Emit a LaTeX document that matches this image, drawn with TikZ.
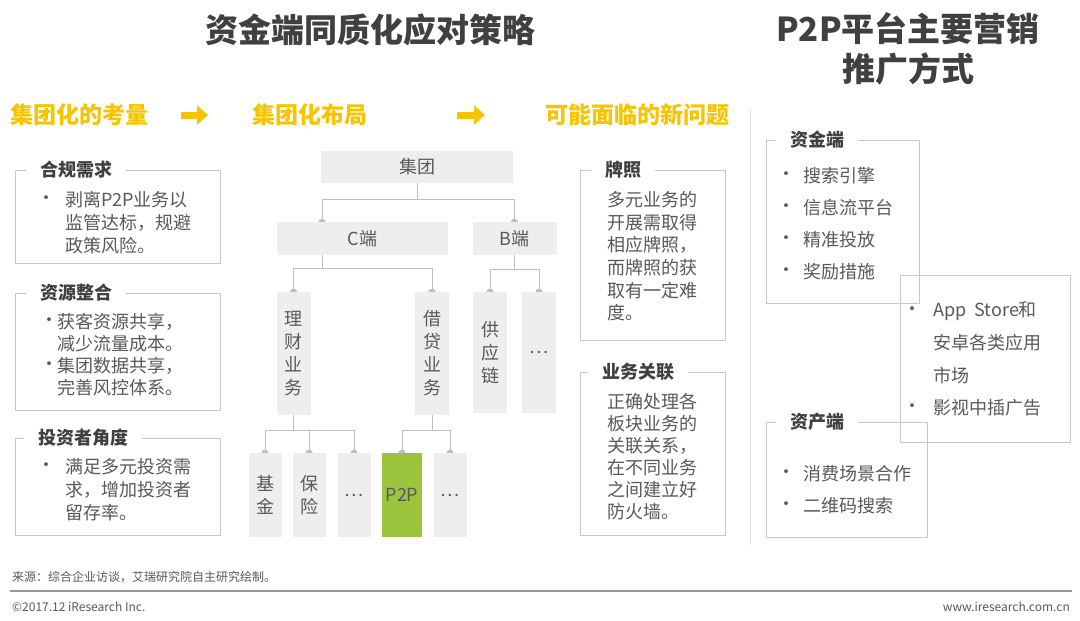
\documentclass[tikz,border=0pt]{standalone}
\usepackage{fontspec}
\setmainfont{Noto Sans CJK SC}
\usetikzlibrary{arrows.meta,shapes.misc,positioning,backgrounds}
\definecolor{hdyellow} {RGB}{246,196,0}
\definecolor{txtgray}  {RGB}{89,89,89}
\definecolor{ttlgray}  {RGB}{64,64,64}
\definecolor{framegray}{RGB}{200,200,200}
\definecolor{treefill} {RGB}{238,238,238}
\definecolor{linkgray} {RGB}{190,190,190}
\definecolor{ptpgreen} {RGB}{155,197,61}
\tikzset{
  bigtitle/.style={font=\fontsize{33}{40}\selectfont\bfseries, text=ttlgray,
                   align=center, inner sep=0pt},
  hdtext/.style  ={font=\fontsize{23}{26}\selectfont\bfseries, text=hdyellow,
                   anchor=west, inner sep=0pt},
  hdarr/.style   ={-{Triangle[length=11pt,width=19pt]}, line width=7pt,
                   draw=hdyellow},
  qbox/.style    ={draw=framegray, line width=0.8pt, chamfered rectangle,
                   chamfered rectangle corners={north east,south west},
                   chamfered rectangle xsep=12pt, inner sep=0pt},
  rbox/.style    ={draw=framegray, line width=0.8pt, inner sep=0pt},
  boxttl/.style  ={font=\fontsize{18}{20}\selectfont\bfseries, text=ttlgray,
                   fill=white, inner xsep=14pt, inner ysep=2pt, anchor=west},
  body/.style    ={font=\fontsize{18}{23}\selectfont, text=txtgray,
                   anchor=west, inner sep=0pt},
  bul/.style     ={body, anchor=center},
  tbox/.style    ={fill=treefill, text=txtgray, inner sep=0pt, align=center,
                   font=\fontsize{18}{23}\selectfont},
  link/.style    ={draw=linkgray, line width=1pt},
  dlink/.style   ={link, -{Circle[length=6pt,width=7pt]}, shorten >=-3pt},
  foot/.style    ={font=\fontsize{12}{14}\selectfont, text=txtgray,
                   inner sep=0pt},
}
\begin{document}
\begin{tikzpicture}[x=1pt, y=-1pt]
  \useasboundingbox (0,0) rectangle (1080,621);
  \begin{scope}[on background layer]
    \fill[white] (0,0) rectangle (1080,621);
  \end{scope}

  % titles
  \node[bigtitle] (main) at (370,30) {资金端同质化应对策略};
  \node[bigtitle] (side) at (908,49) {P2P平台主要营销\\推广方式};
  \draw[framegray!50, line width=0.8pt] (750,110) -- (750,545);

  % yellow headers
  \node[hdtext] (h1) at (10,115)  {集团化的考量};
  \node[hdtext] (h2) at (252,115) {集团化布局};
  \node[hdtext] (h3) at (545,115) {可能面临的新问题};
  \draw[hdarr, shorten <=33pt, shorten >=44pt] (h1.east) -- (h2.west);
  \draw[hdarr, shorten <=90pt, shorten >=60pt] (h2.east) -- (h3.west);

  % left column
  \node[qbox, minimum width=205pt, minimum height=93pt]  (hg) at (117.5,216.5) {};
  \node[boxttl] (hgt) at (26,170) {合规需求};
  \node[bul] (hgb) at (46,200) {•};
  \foreach \t [count=\i] in {剥离P2P业务以,监管达标，规避,政策风险。}
    \node[body] (hg-\i) at (65,177+23*\i) {\t};

  \node[qbox, minimum width=205pt, minimum height=117pt] (zy) at (117.5,351.5) {};
  \node[boxttl] (zyt) at (26,293) {资源整合};
  \node[bul] (zyb1) at (50,322) {•};
  \node[bul] (zyb2) at (50,366) {•};
  \foreach \t [count=\i] in {获客资源共享，,减少流量成本。,集团数据共享，,完善风控体系。}
    \node[body] (zy-\i) at (57,300+22*\i) {\t};

  \node[qbox, minimum width=205pt, minimum height=97pt]  (tz) at (117.5,486.5) {};
  \node[boxttl] (tzt) at (24,438) {投资者角度};
  \node[bul] (tzb) at (46,467) {•};
  \foreach \t [count=\i] in {满足多元投资需,求，增加投资者,留存率。}
    \node[body] (tz-\i) at (65,444+23*\i) {\t};

  % tree
  \node[tbox, minimum width=192pt, minimum height=32pt] (jt) at (417,167) {集团};
  \node[tbox, minimum width=171pt, minimum height=33pt] (cd) at (362.5,238.5) {C端};
  \node[tbox, minimum width=84pt,  minimum height=33pt] (bd) at (514.5,238.5) {B端};
  \node[tbox, minimum width=34pt, minimum height=123pt] (lc) at (293.5,353.5) {理\\财\\业\\务};
  \node[tbox, minimum width=34pt, minimum height=123pt] (jd) at (432,353.5) {借\\贷\\业\\务};
  \node[tbox, minimum width=34pt, minimum height=121pt] (gy) at (490,352.5) {供\\应\\链};
  \node[tbox, minimum width=34pt, minimum height=121pt] (bdots) at (539,352.5) {…};
  \node[tbox, minimum width=33pt, minimum height=84pt] (jj) at (265,495) {基\\金};
  \node[tbox, minimum width=33pt, minimum height=84pt] (bx) at (309,495) {保\\险};
  \node[tbox, minimum width=33pt, minimum height=84pt] (ldots) at (354,495) {…};
  \node[tbox, fill=ptpgreen, minimum width=40pt, minimum height=84pt] (p2p) at (402,495) {P2P};
  \node[tbox, minimum width=33pt, minimum height=84pt] (pdots) at (450,495) {…};
  \coordinate (cdin)  at (322,222);
  \coordinate (cdout) at (322,255);

  \begin{scope}[on background layer]
    \draw[link] (jt.south) -- ++(0,16) coordinate (jtbus);
    \draw[dlink] (jtbus) -| (cdin);
    \draw[dlink] (jtbus) -| (bd.north);
    \draw[link] (cdout) -- ++(0,13) coordinate (cdbus);
    \draw[dlink] (cdbus) -| (lc.north);
    \draw[dlink] (cdbus) -| (jd.north);
    \draw[link] (bd.south) -- ++(0,14) coordinate (bdbus);
    \draw[dlink] (bdbus) -| (gy.north);
    \draw[dlink] (bdbus) -| (bdots.north);
    \draw[link] (lc.south) -- ++(0,15) coordinate (lcbus);
    \draw[dlink] (lcbus) -| (jj.north);
    \draw[dlink] (lcbus) -| (bx.north);
    \draw[dlink] (lcbus) -| (ldots.north);
    \draw[link] (jd.south) -- ++(0,15) coordinate (jdbus);
    \draw[dlink] (jdbus) -| (p2p.north);
    \draw[dlink] (jdbus) -| (pdots.north);
  \end{scope}

  % new problems
  \node[qbox, minimum width=145pt, minimum height=170pt] (pz) at (652.5,255) {};
  \node[boxttl] (pzt) at (591,170) {牌照};
  \foreach \t [count=\i] in {多元业务的,开展需取得,相应牌照，,而牌照的获,取有一定难,度。}
    \node[body] (pz-\i) at (607,177.5+22.6*\i) {\t};

  \node[qbox, minimum width=145pt, minimum height=163pt] (gl) at (652.5,453.5) {};
  \node[boxttl] (glt) at (588,372) {业务关联};
  \foreach \t [count=\i] in {正确处理各,板块业务的,关联关系，,在不同业务,之间建立好,防火墙。}
    \node[body] (gl-\i) at (607,380+22*\i) {\t};

  % marketing channels
  \node[rbox, minimum width=153pt, minimum height=163pt] (zj) at (842.5,221.5) {};
  \node[rbox, minimum width=170pt, minimum height=167pt] (app) at (985,358.5) {};
  \node[rbox, minimum width=161pt, minimum height=115pt] (zc) at (846.5,479.5) {};
  \node[boxttl] (zjt) at (776,140) {资金端};
  \node[boxttl] (zct) at (776,422) {资产端};
  \foreach \t [count=\i] in {搜索引擎,信息流平台,精准投放,奖励措施} {
    \node[bul] (zjb-\i) at (786,144+32*\i) {•};
    \node[body] (zj-\i) at (803,144+32*\i) {\t};
  }
  \node[bul] (appb1) at (912,311) {•};
  \node[body] (app-1) at (933,311) {App\ \ Store和};
  \node[body] (app-2) at (933,343) {安卓各类应用};
  \node[body] (app-3) at (933,376) {市场};
  \node[bul] (appb2) at (912,408) {•};
  \node[body] (app-4) at (933,408) {影视中插广告};
  \foreach \t [count=\i] in {消费场景合作,二维码搜索} {
    \node[bul] (zcb-\i) at (786,442+32*\i) {•};
    \node[body] (zc-\i) at (803,442+32*\i) {\t};
  }

  % footer
  \node[foot, anchor=west] (src) at (12,577) {来源：综合企业访谈，艾瑞研究院自主研究绘制。};
  \draw[linkgray!80!black, line width=1.2pt] (10,591) -- (1072,591);
  \node[foot, anchor=west] (copy) at (12,607) {©2017.12 iResearch Inc.};
  \node[foot, anchor=east] (web) at (1070,607) {www.iresearch.com.cn};
\end{tikzpicture}
\end{document}
